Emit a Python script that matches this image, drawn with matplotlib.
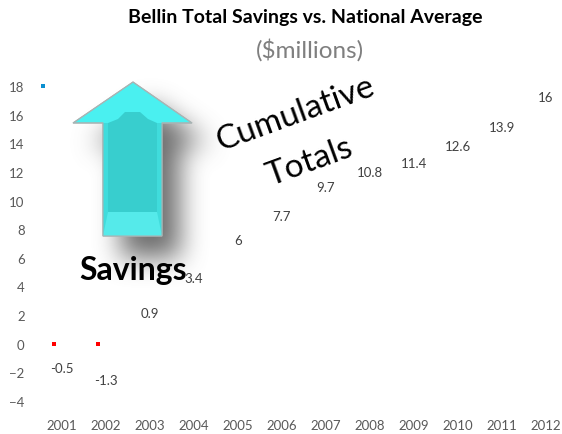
import numpy as np
import matplotlib.pyplot as plt
from matplotlib.path import Path
from matplotlib.patches import Polygon

plt.rcParams['font.family'] = ['Lato', 'DejaVu Sans']

# Cumulative savings, $ millions
years = ['2001', '2002', '2003', '2004', '2005', '2006', '2007', '2008',
         '2009', '2010', '2011', '2012']
savings = [-0.5, -1.3, 0.9, 3.4, 6, 7.7, 9.7, 10.8, 11.4, 12.6, 13.9, 16]
labels = ['-0.5', '-1.3', '0.9', '3.4', '6', '7.7', '9.7', '10.8',
          '11.4', '12.6', '13.9', '16']
# small series markers left over in the plot area
red_marks_x = [-0.18, 0.82]
red_marks_y = [0, 0]
blue_marks_x = [-0.43]
blue_marks_y = [18]
yticks = [-4, -2, 0, 2, 4, 6, 8, 10, 12, 14, 16, 18]

W, H = 562, 435
fig = plt.figure(figsize=(W / 100, H / 100), dpi=100)

# main data axes
ax = fig.add_axes([39.9 / W, (H - 402) / H, 528 / W, 315 / H])
x = np.arange(len(years))
ax.bar(x, savings, width=0.55, color='none')
for xi, v, lab in zip(x, savings, labels):
    off = 12.5 if v >= 0 else -12.5
    ax.annotate(lab, (xi, v), xytext=(0, off), textcoords='offset points',
                ha='center', va='center', fontsize=9.5, color='#404040',
                zorder=1)
ax.scatter(red_marks_x, red_marks_y, marker='s', s=7, color='#ff0000',
           linewidths=0, zorder=3, clip_on=False)
ax.scatter(blue_marks_x, blue_marks_y, marker='s', s=9, color='#0a8fd0',
           linewidths=0, zorder=3, clip_on=False)
ax.set_xlim(-0.5, 11.5)
ax.set_ylim(-4, 18)
ax.set_yticks(yticks)
ax.set_xticks(x)
ax.set_xticklabels(years)
ax.tick_params(length=0, labelsize=9.5, colors='#595959')
ax.tick_params(axis='y', pad=11)
ax.tick_params(axis='x', pad=13)
for s in ax.spines.values():
    s.set_visible(False)
ax.patch.set_alpha(0)

fig.text(305 / W, 1 - 18 / H, 'Bellin Total Savings vs. National Average',
         ha='center', va='center', fontsize=14, fontweight='bold',
         color='black')
fig.text(310 / W, 1 - 50 / H, '($millions)', ha='center', va='center',
         fontsize=17.5, color='#7f7f7f')

# overlay in pixel coordinates for the arrow callout
ov = fig.add_axes([0, 0, 1, 1], zorder=2)
ov.set_xlim(0, W)
ov.set_ylim(H, 0)
ov.axis('off')

outer = [(133, 83), (192, 124), (162, 124), (162, 237), (103, 237),
         (103, 124), (73, 124)]

# soft drop shadow
yy, xx = np.mgrid[0:H, 0:W]
pts = np.column_stack([xx.ravel() + 0.5, yy.ravel() + 0.5])
shadow_poly = [(px + 18, py + 22) for px, py in outer]
mask = Path(shadow_poly).contains_points(pts).reshape(H, W).astype(float)
k = 12
for _ in range(3):
    c = np.cumsum(np.pad(mask, ((0, 0), (k, k)), mode='edge'), axis=1)
    mask = (c[:, 2 * k:] - np.hstack([np.zeros((H, 1)), c[:, :-2 * k - 1]])) / (2 * k + 1)
    c = np.cumsum(np.pad(mask, ((k, k), (0, 0)), mode='edge'), axis=0)
    mask = (c[2 * k:, :] - np.vstack([np.zeros((1, W)), c[:-2 * k - 1, :]])) / (2 * k + 1)
rgba = np.zeros((H, W, 4))
rgba[..., :3] = 0.4
rgba[..., 3] = np.clip(mask * 0.95, 0, 1)
ov.imshow(rgba, extent=[0, W, H, 0], interpolation='bilinear', zorder=1)

ov.add_patch(Polygon(outer, closed=True, facecolor='#4af0f0',
                     edgecolor='#a8b4b4', lw=0.8, zorder=2))
ov.add_patch(Polygon([(103, 124), (162, 124), (162, 237), (103, 237)],
                     closed=True, facecolor='#40dcdc', edgecolor='none',
                     zorder=2))
inner = [(108, 124), (118, 120), (125, 113), (140, 113), (148, 120),
         (157, 124), (157, 213), (108, 213)]
ov.add_patch(Polygon(inner, closed=True, facecolor='#38cece',
                     edgecolor='none', zorder=3))
ov.add_patch(Polygon([(108, 213), (157, 213), (162, 237), (103, 237)],
                     closed=True, facecolor='#55eaea', edgecolor='none',
                     zorder=3))
ov.add_patch(Polygon(outer, closed=True, facecolor='none',
                     edgecolor='#a8b4b4', lw=0.8, zorder=4))

ov.text(133, 271, 'Savings', ha='center', va='center', fontsize=23,
        fontweight='bold', color='black', zorder=5)
ov.text(295, 114, 'Cumulative', ha='center', va='center', fontsize=24,
        rotation=20, color='black', zorder=5)
ov.text(310, 162, 'Totals', ha='center', va='center', fontsize=24,
        rotation=20, color='black', zorder=5)

fig.savefig('out.png', dpi=100)
